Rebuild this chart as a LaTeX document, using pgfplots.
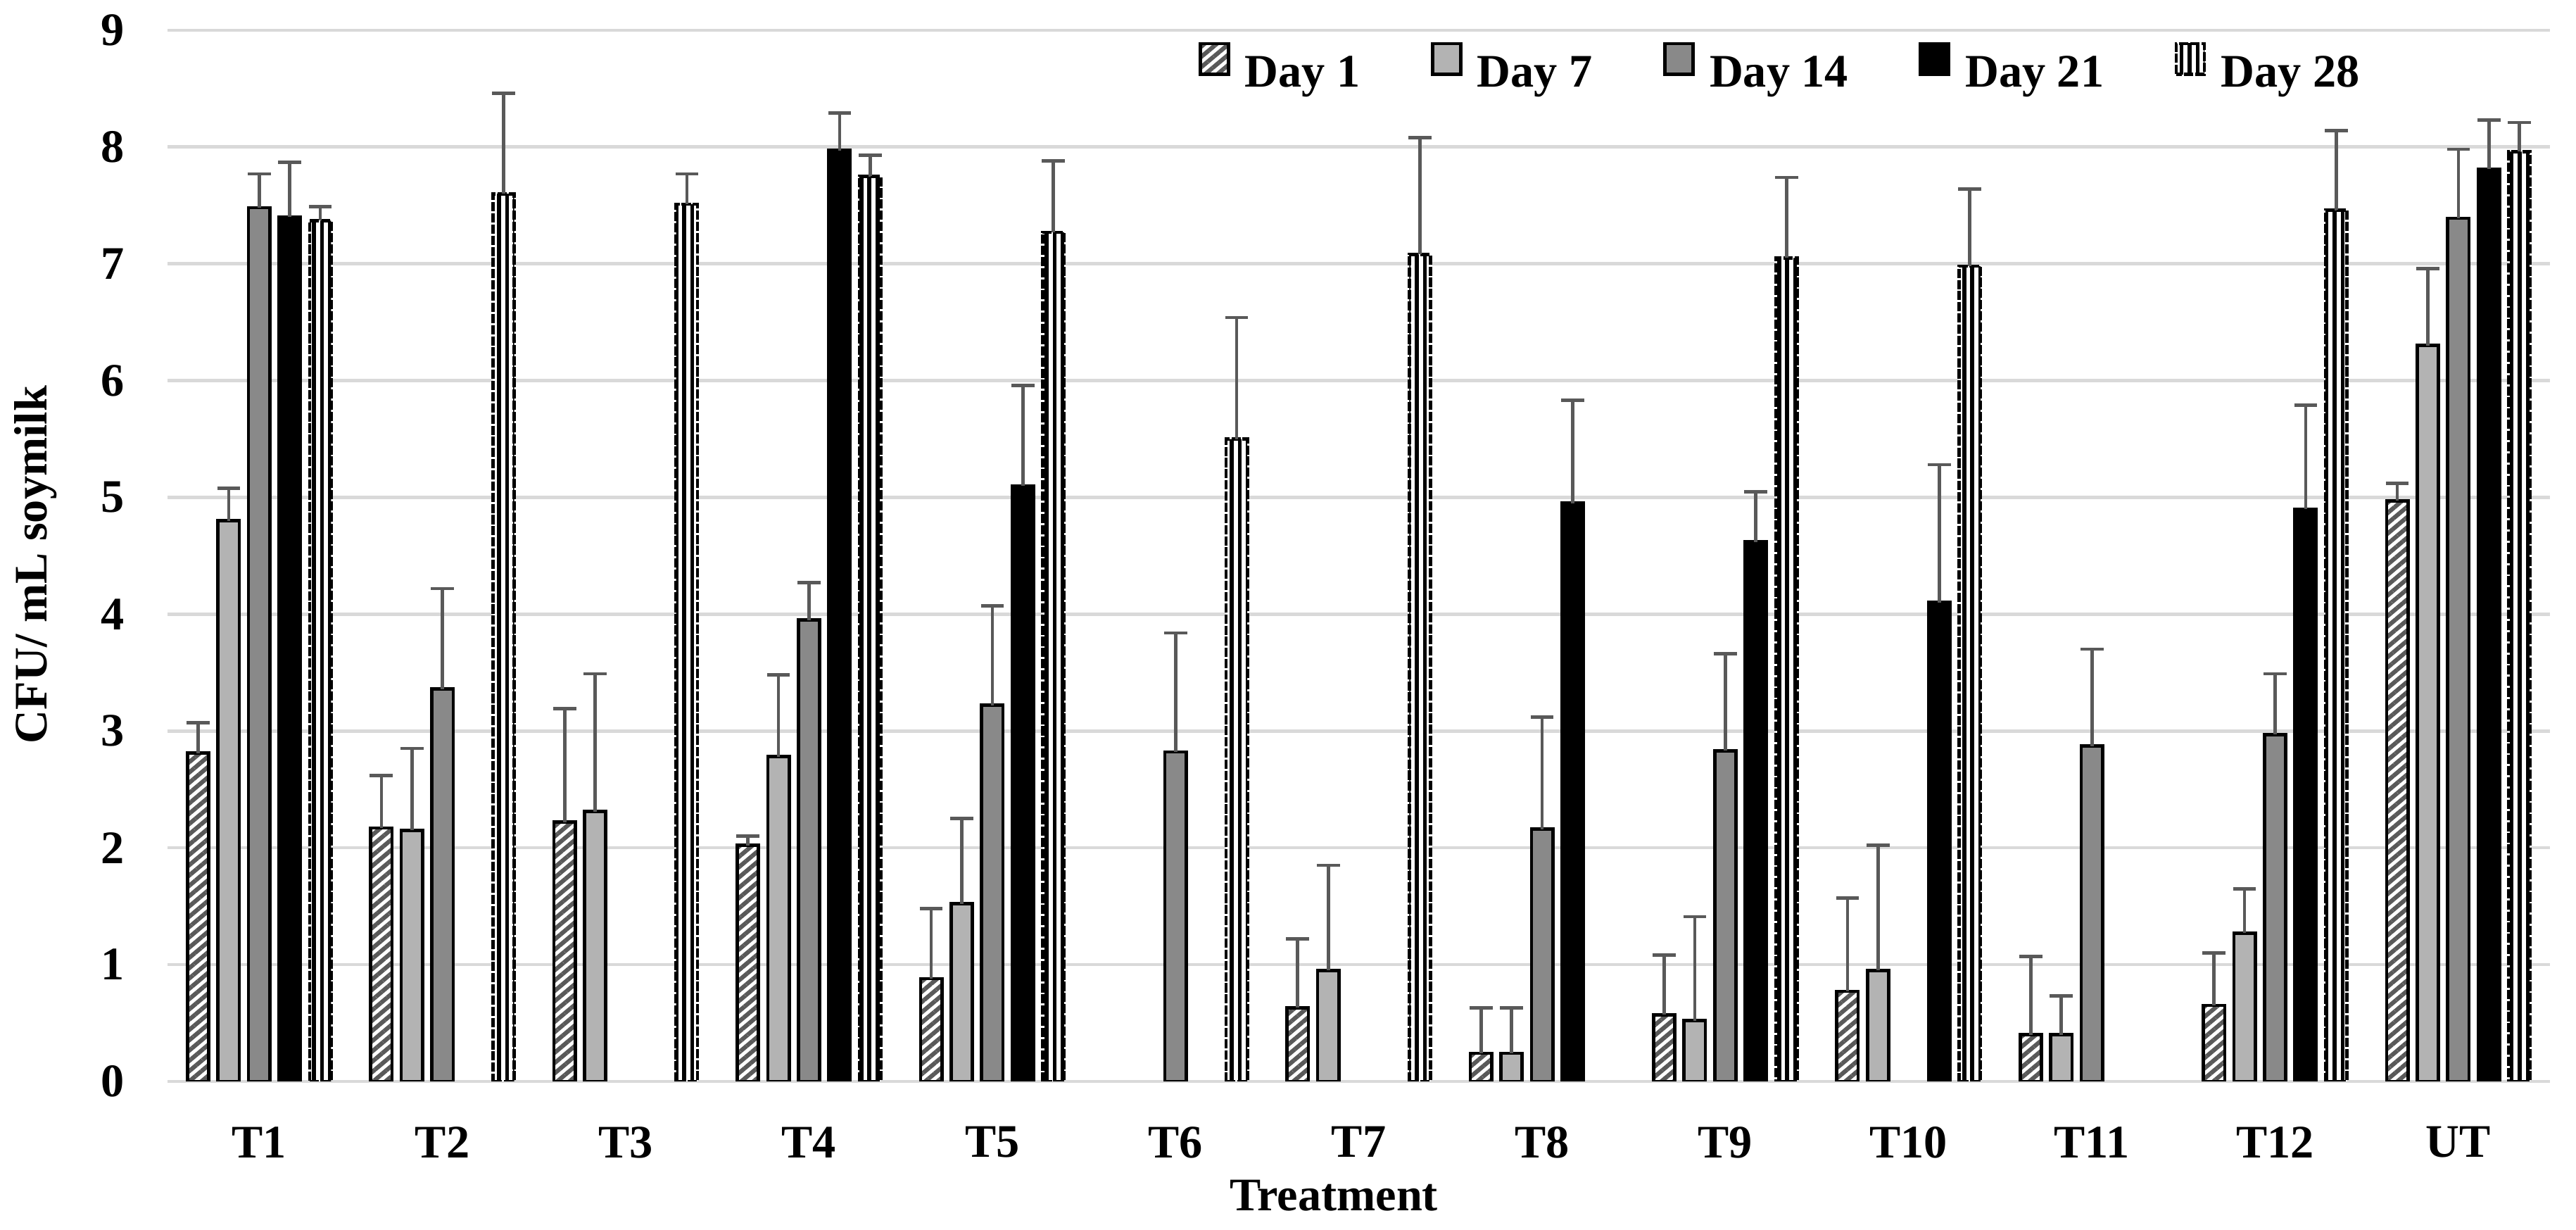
\documentclass[border=0pt]{standalone}
\usepackage{fontspec}
\setmainfont{Liberation Serif}
\usepackage{pgfplots}
\usepackage{pgfplotstable}
\pgfplotsset{compat=1.18}
\usetikzlibrary{patterns.meta}

\definecolor{errgray}{HTML}{595959}
\definecolor{gridgray}{HTML}{D9D9D9}
\definecolor{lightbar}{HTML}{B3B3B3}
\definecolor{midbar}{HTML}{898989}

% x: 0 = T1 ... 11 = T12, 12 = UT; e = upper error
\pgfplotstableread{
x y e
0 2.81 0.26
1 2.17 0.45
2 2.22 0.97
3 2.02 0.08
4 0.88 0.60
6 0.63 0.59
7 0.24 0.39
8 0.57 0.51
9 0.77 0.80
10 0.40 0.67
11 0.65 0.45
12 4.97 0.15
}\dayone
\pgfplotstableread{
x y e
0 4.80 0.28
1 2.15 0.70
2 2.31 1.18
3 2.78 0.70
4 1.52 0.73
6 0.95 0.90
7 0.24 0.39
8 0.52 0.89
9 0.95 1.07
10 0.40 0.33
11 1.27 0.38
12 6.30 0.66
}\dayseven
\pgfplotstableread{
x y e
0 7.48 0.29
1 3.36 0.86
3 3.95 0.32
4 3.22 0.85
5 2.82 1.02
7 2.16 0.96
8 2.83 0.83
10 2.87 0.83
11 2.97 0.52
12 7.39 0.59
}\dayfourteen
\pgfplotstableread{
x y e
0 7.40 0.47
3 7.97 0.32
4 5.10 0.86
7 4.95 0.88
8 4.62 0.43
9 4.10 1.18
11 4.90 0.89
12 7.81 0.42
}\daytwentyone
\pgfplotstableread{
x y e
0 7.37 0.12
1 7.60 0.86
2 7.51 0.26
3 7.75 0.18
4 7.27 0.61
5 5.50 1.04
6 7.08 1.00
8 7.05 0.69
9 6.98 0.66
11 7.46 0.68
12 7.96 0.25
}\daytwentyeight

\begin{document}
\begin{tikzpicture}
\begin{axis}[
  name=ax,
  scale only axis,
  width=725.1pt, height=319.8pt,
  font=\fontsize{14.2}{17}\selectfont\bfseries,
  /pgf/number format/assume math mode=true,
  ybar=2.8pt, bar width=6.5pt,
  xmin=-0.5, xmax=12.5,
  ymin=0, ymax=9,
  xtick={0,...,12},
  xticklabels={T1,T2,T3,T4,T5,T6,T7,T8,T9,T10,T11,T12,UT},
  ytick={0,...,9},
  major tick length=0pt,
  axis line style={draw=none},
  ymajorgrids,
  major grid style={gridgray, line width=1pt},
  xticklabel style={yshift=-10.3pt},
  yticklabel style={xshift=-9.7pt},
  xlabel={Treatment},
  ylabel={CFU/ mL soymilk},
  xlabel style={at={(axis description cs:0.4895,-0.109)}, anchor=center},
  ylabel style={at={(axis description cs:-0.0553,0.4916)}, anchor=center},
  legend columns=5,
  legend cell align=left,
  legend image code/.code={\draw[#1] (0pt,0pt) rectangle (8.6pt,9.3pt);},
  legend style={at={(0.4325,0.965)}, anchor=west, draw=none, fill=none,
    inner sep=0pt, nodes={inner sep=0pt},
    /tikz/every odd column/.append style={column sep=4.5pt},
    /tikz/every even column/.append style={column sep=21.5pt}},
  error bars/y dir=plus,
  error bars/y explicit,
  error bars/error bar style={solid, errgray, line width=1pt},
  error bars/error mark options={solid, errgray, line width=1pt, mark size=3.5pt, rotate=90},
]
\addplot[draw=black, line width=1pt, preaction={fill=white},
  pattern={Lines[angle=40,distance=2.4pt,line width=1.3pt]}, pattern color=errgray]
  table[x=x, y=y, y error=e] {\dayone};
\addlegendentry{Day 1}
\addplot[draw=black, line width=1pt, fill=lightbar]
  table[x=x, y=y, y error=e] {\dayseven};
\addlegendentry{Day 7}
\addplot[draw=black, line width=1pt, fill=midbar]
  table[x=x, y=y, y error=e] {\dayfourteen};
\addlegendentry{Day 14}
\addplot[draw=black, line width=1pt, fill=black]
  table[x=x, y=y, y error=e] {\daytwentyone};
\addlegendentry{Day 21}
\addplot[draw=black, line width=1pt, dash pattern=on 2.8pt off 0.6pt, preaction={fill=white},
  pattern={Lines[angle=90,distance=2.45pt,line width=1.2pt]}, pattern color=black]
  table[x=x, y=y, y error=e] {\daytwentyeight};
\addlegendentry{Day 28}
\end{axis}
\pgfresetboundingbox
\path ([xshift=-51pt,yshift=-45.2pt]ax.south west) rectangle ([xshift=7.9pt,yshift=9.2pt]ax.north east);
\end{tikzpicture}
\end{document}
